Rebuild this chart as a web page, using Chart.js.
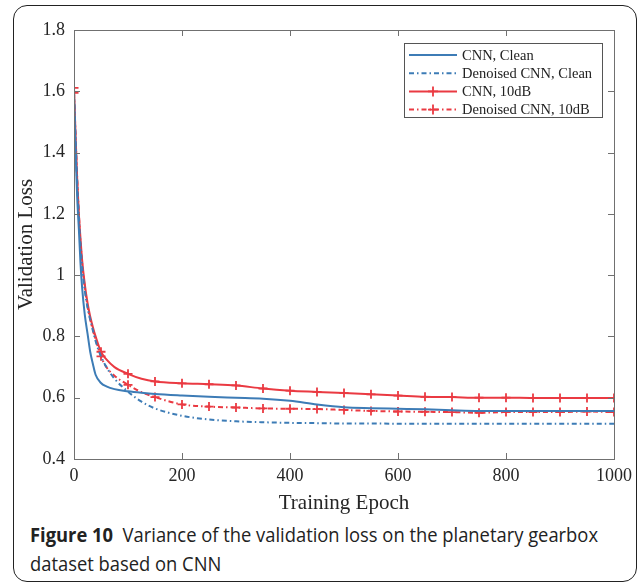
<!DOCTYPE html>
<html>
<head>
<meta charset="utf-8">
<script src="https://cdn.jsdelivr.net/npm/chart.js@4.4.1/dist/chart.umd.min.js"></script>
<style>
  html, body { margin: 0; padding: 0; background: #fff; width: 640px; height: 583px; overflow: hidden; }
  #frame { position: absolute; left: 13px; top: 5px; width: 624px; height: 577px; border: 1px solid #222; border-radius: 14px; box-sizing: border-box; }
  #wrap { position: absolute; left: 0; top: 0; width: 640px; height: 520px; }
  #caption { position: absolute; left: 30px; top: 521px; font-family: 'Open Sans', 'Noto Sans', sans-serif; font-size: 20px; line-height: 28.5px; color: #222; white-space: nowrap; transform-origin: 0 0; }
  #caption b { font-weight: 700; }
  #caption span { display: inline-block; }
</style>
</head>
<body>
<div id="frame"></div>
<div id="wrap"><canvas id="c" width="640" height="520"></canvas></div>
<div id="caption"><span id="line1"><b>Figure 10</b>&nbsp; Variance of the validation loss on the planetary gearbox</span><br><span id="line2">dataset based on CNN</span></div>
<script>
// ---- data ----
const epochs        = [0, 3, 6, 9, 12, 15, 20, 25, 30, 35, 40, 50, 60, 75, 100, 125, 150, 200, 250, 300, 350, 400, 450, 500, 550, 600, 650, 700, 750, 800, 850, 900, 950, 1000];
const cnnClean      = [1.59, 1.40, 1.25, 1.15, 1.04, 0.96, 0.87, 0.81, 0.75, 0.71, 0.675, 0.648, 0.637, 0.628, 0.621, 0.616, 0.612, 0.607, 0.603, 0.600, 0.597, 0.590, 0.578, 0.569, 0.566, 0.564, 0.562, 0.559, 0.557, 0.557, 0.557, 0.557, 0.557, 0.557];
const denoisedClean = [1.60, 1.44, 1.30, 1.19, 1.10, 1.03, 0.95, 0.895, 0.855, 0.82, 0.785, 0.735, 0.700, 0.662, 0.620, 0.587, 0.565, 0.541, 0.529, 0.523, 0.520, 0.518, 0.517, 0.516, 0.516, 0.515, 0.515, 0.515, 0.515, 0.515, 0.515, 0.515, 0.515, 0.515];
const cnn10dB       = [1.611, 1.45, 1.31, 1.20, 1.12, 1.05, 0.97, 0.91, 0.865, 0.83, 0.80, 0.750, 0.725, 0.700, 0.678, 0.662, 0.653, 0.647, 0.644, 0.640, 0.630, 0.623, 0.619, 0.615, 0.611, 0.607, 0.603, 0.602, 0.600, 0.600, 0.599, 0.599, 0.599, 0.599];
const denoised10dB  = [1.595, 1.45, 1.31, 1.20, 1.11, 1.04, 0.96, 0.90, 0.855, 0.82, 0.79, 0.735, 0.700, 0.672, 0.642, 0.618, 0.602, 0.578, 0.571, 0.568, 0.565, 0.564, 0.563, 0.560, 0.557, 0.555, 0.554, 0.553, 0.551, 0.553, 0.553, 0.553, 0.555, 0.553];
const markerEpochs  = [0, 50, 100, 150, 200, 250, 300, 350, 400, 450, 500, 550, 600, 650, 700, 750, 800, 850, 900, 950, 1000];
const seriesLabels  = ['CNN, Clean', 'Denoised CNN, Clean', 'CNN, 10dB', 'Denoised CNN, 10dB'];
const xTicks        = [0, 200, 400, 600, 800, 1000];
const yTicks        = [0.4, 0.6, 0.8, 1.0, 1.2, 1.4, 1.6, 1.8];

const BLUE = '#3d7cb6';
const RED = '#ea3a42';
const AXIS = '#707070';
const SERIF = "'Liberation Serif', 'Times New Roman', serif";

// fit caption line 1 to the reference width (narrow sans caption font)
(function fitCaption() {
  const cap = document.getElementById('caption');
  const w = document.getElementById('line1').getBoundingClientRect().width;
  if (w > 0) cap.style.transform = 'scaleX(' + (568 / w) + ')';
})();

const toPts = arr => epochs.map((e, i) => ({ x: e, y: arr[i] }));
const markerRadius = ctx => markerEpochs.includes(epochs[ctx.dataIndex]) ? 4.5 : 0;

const datasets = [
  { label: seriesLabels[0], data: toPts(cnnClean), borderColor: BLUE, borderWidth: 2, pointRadius: 0, marker: false },
  { label: seriesLabels[1], data: toPts(denoisedClean), borderColor: BLUE, borderWidth: 2, borderDash: [5, 3, 1.5, 3], pointRadius: 0, marker: false },
  { label: seriesLabels[2], data: toPts(cnn10dB), borderColor: RED, borderWidth: 2, pointStyle: 'cross', pointRadius: markerRadius, pointBorderWidth: 1.8, pointBorderColor: RED, marker: true },
  { label: seriesLabels[3], data: toPts(denoised10dB), borderColor: RED, borderWidth: 2, borderDash: [5, 3, 1.5, 3], pointStyle: 'cross', pointRadius: markerRadius, pointBorderWidth: 1.8, pointBorderColor: RED, marker: true }
];
datasets.forEach(d => { d.tension = 0.3; d.cubicInterpolationMode = 'monotone'; d.fill = false; d.pointHoverRadius = 0; });

const boxPlugin = {
  id: 'boxPlugin',
  afterDatasetsDraw(chart) {
    const { ctx, chartArea: a, scales } = chart;
    ctx.save();
    ctx.strokeStyle = AXIS;
    ctx.lineWidth = 1;
    ctx.strokeRect(Math.round(a.left) + 0.5, Math.round(a.top) + 0.5, Math.round(a.right - a.left), Math.round(a.bottom - a.top));
    const L = 6;
    scales.x.ticks.forEach(t => {
      const px = Math.round(scales.x.getPixelForValue(t.value)) + 0.5;
      ctx.beginPath();
      ctx.moveTo(px, a.bottom); ctx.lineTo(px, a.bottom - L);
      ctx.moveTo(px, a.top); ctx.lineTo(px, a.top + L);
      ctx.stroke();
    });
    scales.y.ticks.forEach(t => {
      const py = Math.round(scales.y.getPixelForValue(t.value)) + 0.5;
      ctx.beginPath();
      ctx.moveTo(a.left, py); ctx.lineTo(a.left + L, py);
      ctx.moveTo(a.right, py); ctx.lineTo(a.right - L, py);
      ctx.stroke();
    });
    // legend box inside the plot
    const bx = 404.5, by = 43.5, bw = 198, bh = 74;
    ctx.fillStyle = '#fff';
    ctx.fillRect(bx, by, bw, bh);
    ctx.strokeStyle = '#555';
    ctx.strokeRect(bx, by, bw, bh);
    ctx.font = "14.5px " + SERIF;
    ctx.textBaseline = 'middle';
    chart.data.datasets.forEach((d, i) => {
      const y = 55 + i * 18.2;
      ctx.save();
      ctx.strokeStyle = d.borderColor;
      ctx.lineWidth = 2;
      ctx.setLineDash(d.borderDash || []);
      ctx.beginPath(); ctx.moveTo(409, y); ctx.lineTo(457, y); ctx.stroke();
      ctx.setLineDash([]);
      if (d.marker) {
        ctx.lineWidth = 1.8;
        ctx.beginPath();
        ctx.moveTo(433, y - 5); ctx.lineTo(433, y + 5);
        ctx.moveTo(428, y); ctx.lineTo(438, y);
        ctx.stroke();
      }
      ctx.restore();
      ctx.fillStyle = '#222';
      ctx.fillText(d.label, 462, y + 1);
    });
    ctx.restore();
  }
};

new Chart(document.getElementById('c'), {
  type: 'line',
  data: { datasets },
  options: {
    responsive: false,
    animation: false,
    devicePixelRatio: 1,
    layout: { padding: { left: 14, right: 26, top: 30, bottom: 0 } },
    plugins: { legend: { display: false }, tooltip: { enabled: false } },
    scales: {
      x: {
        type: 'linear', min: 0, max: 1000,
        afterBuildTicks: s => { s.ticks = xTicks.map(v => ({ value: v })); },
        afterFit: s => { s.height = 61; },
        grid: { display: false, drawTicks: false },
        border: { display: false },
        ticks: { color: '#262626', font: { family: SERIF, size: 18 }, padding: 6, maxRotation: 0, callback: v => String(v) },
        title: { display: true, text: 'Training Epoch', color: '#262626', font: { family: SERIF, size: 21 }, padding: { top: 0, bottom: 4 } }
      },
      y: {
        type: 'linear', min: 0.4, max: 1.8,
        afterBuildTicks: s => { s.ticks = yTicks.map(v => ({ value: v })); },
        afterFit: s => { s.width = 60; },
        grid: { display: false, drawTicks: false },
        border: { display: false },
        ticks: { color: '#262626', font: { family: SERIF, size: 18 }, padding: 9, callback: v => String(Number(v.toFixed(1))) },
        title: { display: true, text: 'Validation Loss', color: '#262626', font: { family: SERIF, size: 21 }, padding: { top: 0, bottom: 0 } }
      }
    }
  },
  plugins: [boxPlugin]
});
</script>
</body>
</html>
